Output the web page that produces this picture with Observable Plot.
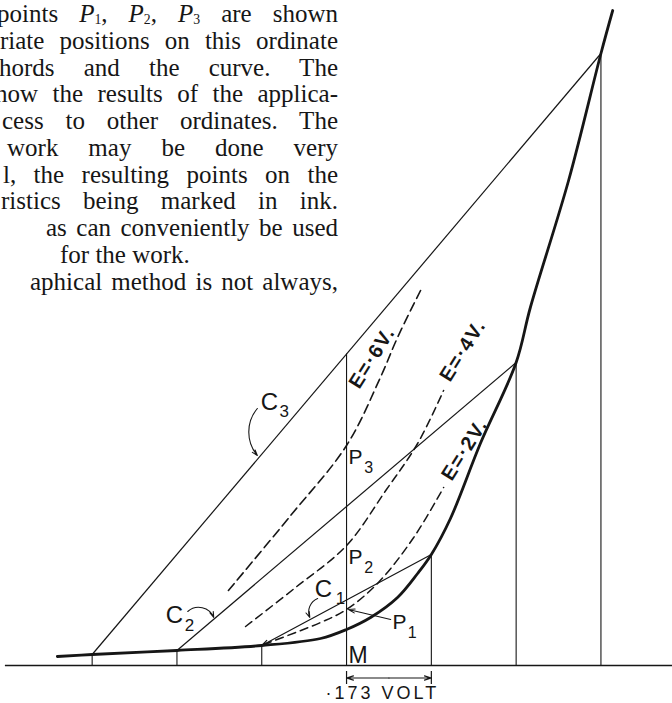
<!DOCTYPE html>
<html>
<head>
<meta charset="utf-8">
<script src="https://cdn.jsdelivr.net/npm/d3@7"></script>
<script src="https://cdn.jsdelivr.net/npm/@observablehq/plot@0.6"></script>
<style>
  html, body { margin: 0; padding: 0; background: #fff; }
  #wrap { position: relative; width: 672px; height: 703px; overflow: hidden; }
  #chart { position: absolute; left: 0; top: 0; }
  #para { position: absolute; left: 0; top: 0; font-family: "Liberation Serif", "DejaVu Serif", serif; font-size: 25px; color: #161616; }
  #para .ln { position: absolute; white-space: nowrap; line-height: 26.7px; }
  #para sub { font-size: 0.55em; vertical-align: -0.12em; font-style: normal; }
  .elab text { letter-spacing: 1.5px; }
  .vlab text { letter-spacing: 3px; }
</style>
</head>
<body>
<div id="wrap"><div id="chart"></div><div id="para"></div></div>
<script>
// Grid voltage (V, measured from the ordinate M, 0.173 V per division) and plate current (mA)
const gridVolts = [-0.519, -0.346, -0.173, 0, 0.173, 0.346, 0.519];

// Static characteristic (heavy curve)
const curveVolts   = [-0.59, -0.519, -0.346, -0.173, -0.053, 0, 0.049, 0.104, 0.145, 0.173, 0.212, 0.273, 0.346, 0.375, 0.453, 0.519, 0.543];
const curveCurrent = [0.09, 0.11, 0.15, 0.20, 0.27, 0.36, 0.48, 0.68, 0.92, 1.11, 1.47, 2.22, 3.03, 3.58, 4.85, 6.12, 6.55];

// Derived characteristics (dashed) for E = ·2, ·4, ·6 volt
const e2Volts   = [-0.169, -0.053, 0, 0.065, 0.137, 0.198];
const e2Current = [0.21, 0.43, 0.56, 0.83, 1.28, 1.78];
const e4Volts   = [-0.206, -0.104, 0, 0.080, 0.145, 0.198];
const e4Current = [0.39, 0.78, 1.20, 1.75, 2.22, 2.75];
const e6Volts   = [-0.241, -0.114, 0, 0.069, 0.104, 0.151];
const e6Current = [0.75, 1.50, 2.20, 2.88, 3.28, 3.75];

const eLabels = ["E=·2V.", "E=·4V.", "E=·6V."];
const divisionLabel = "·173 VOLT";

// Text of the page above the figure
const paraLines = [
  'points <i>P</i><sub>1</sub>, <i>P</i><sub>2</sub>, <i>P</i><sub>3</sub> are shown',
  'riate positions on this ordinate',
  'hords and the curve.  The',
  'how the results of the applica-',
  'cess to other ordinates.  The',
  'work may be done very',
  'l, the resulting points on the',
  'ristics being marked in ink.',
  'as can conveniently be used',
  'for the work.',
  'aphical method is not always,'
];

const ink = "#161616";
const sans = "Liberation Sans, Arial, sans-serif";

const pts = (V, I) => V.map((v, k) => ({v, i: I[k]}));
const curve = pts(curveVolts, curveCurrent);
const e2 = pts(e2Volts, e2Current);
const e4 = pts(e4Volts, e4Current);
const e6 = pts(e6Volts, e6Current);
const at = v => curveCurrent[curveVolts.indexOf(v)];

// Chords C1, C2, C3 join the curve at ±1, ±2, ±3 divisions about M
const mid = gridVolts.indexOf(0);
const chords = [1, 2, 3].map(k => ({
  v1: gridVolts[mid - k], i1: at(gridVolts[mid - k]),
  v2: gridVolts[mid + k], i2: at(gridVolts[mid + k])
}));
const c3 = chords[2];
const c3AtM = c3.i1 + (c3.i2 - c3.i1) * (0 - c3.v1) / (c3.v2 - c3.v1);
const ordinates = gridVolts.map(v => ({v, top: v === 0 ? c3AtM : at(v)}));

// Points P1, P2, P3 where the dashed characteristics cross the ordinate M
const pOnM = [e2, e4, e6].map(s => s.find(d => d.v === 0).i);

const step = gridVolts[mid + 1] - gridVolts[mid];

const labelArrow = (d, bend) => Plot.arrow([d], {
  x1: "v1", y1: "i1", x2: "v2", y2: "i2", bend,
  stroke: ink, strokeWidth: 1.1, headLength: 8, headAngle: 35
});

const chart = Plot.plot({
  width: 672,
  height: 703,
  margin: 0,
  x: {domain: [-0.706, 0.665], axis: null},
  y: {domain: [0, 6.65], range: [665, 0], axis: null},
  marks: [
    // abscissa
    Plot.ruleY([0], {x1: -0.696, x2: 0.665, stroke: ink, strokeWidth: 1.6}),
    // ordinates
    Plot.ruleX(ordinates, {x: "v", y1: 0, y2: "top", stroke: ink, strokeWidth: 1.1}),
    // chords
    Plot.link(chords.slice(1), {x1: "v1", y1: "i1", x2: "v2", y2: "i2", stroke: ink, strokeWidth: 1.2}),
    Plot.arrow(chords.slice(0, 1), {x1: "v2", y1: "i2", x2: "v1", y2: "i1", stroke: ink, strokeWidth: 1.2, headLength: 9, headAngle: 35}),
    // dashed characteristics
    Plot.line(e2, {x: "v", y: "i", curve: "catmull-rom", stroke: ink, strokeWidth: 1.5, strokeDasharray: "8,5"}),
    Plot.line(e4, {x: "v", y: "i", curve: "catmull-rom", stroke: ink, strokeWidth: 1.5, strokeDasharray: "8,5"}),
    Plot.line(e6, {x: "v", y: "i", curve: "catmull-rom", stroke: ink, strokeWidth: 1.6, strokeDasharray: "9,5"}),
    // static characteristic
    Plot.line(curve, {x: "v", y: "i", curve: "catmull-rom", stroke: ink, strokeWidth: 2.8}),
    // labels along the dashed curves
    Plot.text([
      {t: eLabels[0], v: 0.241, i: 2.16},
      {t: eLabels[1], v: 0.237, i: 3.15},
      {t: eLabels[2], v: 0.052, i: 3.08}
    ], {x: "v", y: "i", text: "t", rotate: -58, fontSize: 20, fontWeight: "bold", fontFamily: sans, fill: ink, className: "elab"}),
    // chord labels
    Plot.text([
      {t: "C", v: -0.065, i: 0.757},
      {t: "C", v: -0.369, i: 0.497},
      {t: "C", v: -0.175, i: 2.627}
    ], {x: "v", y: "i", text: "t", textAnchor: "start", fontSize: 24, fontFamily: sans, fill: ink}),
    Plot.text([
      {t: "1", v: -0.022, i: 0.674},
      {t: "2", v: -0.330, i: 0.404},
      {t: "3", v: -0.137, i: 2.544}
    ], {x: "v", y: "i", text: "t", textAnchor: "start", fontSize: 17, fontFamily: sans, fill: ink}),
    labelArrow({v1: -0.059, i1: 0.67, v2: -0.075, i2: 0.48}, -45),
    labelArrow({v1: -0.324, i1: 0.54, v2: -0.271, i2: 0.48}, 55),
    labelArrow({v1: -0.182, i1: 2.57, v2: -0.182, i2: 2.10}, -40),
    // point labels on the ordinate M
    Plot.text([
      {t: "P", v: 0.094, i: pOnM[0] - 0.123},
      {t: "P", v: 0.004, i: pOnM[1] - 0.113},
      {t: "P", v: 0.004, i: pOnM[2] - 0.113}
    ], {x: "v", y: "i", text: "t", textAnchor: "start", fontSize: 21, fontFamily: sans, fill: ink}),
    Plot.text([
      {t: "1", v: 0.125, i: pOnM[0] - 0.229},
      {t: "2", v: 0.036, i: pOnM[1] - 0.219},
      {t: "3", v: 0.036, i: pOnM[2] - 0.219}
    ], {x: "v", y: "i", text: "t", textAnchor: "start", fontSize: 16, fontFamily: sans, fill: ink}),
    Plot.arrow([{v1: 0.090, i1: pOnM[0] - 0.10, v2: 0.004, i2: pOnM[0]}],
      {x1: "v1", y1: "i1", x2: "v2", y2: "i2", stroke: ink, strokeWidth: 1.1, headLength: 9, headAngle: 35}),
    Plot.text(["M"], {x: 0.004, y: 0.094, text: d => d, textAnchor: "start", fontSize: 23, fontFamily: sans, fill: ink}),
    // one-division dimension below the axis
    Plot.ruleX([0, step], {x: d => d, y1: -0.06, y2: -0.19, stroke: ink, strokeWidth: 1.2}),
    Plot.arrow([0, step], {x1: step / 2, y1: -0.125, x2: d => d, y2: -0.125, stroke: ink, strokeWidth: 1.2, headLength: 9, headAngle: 35}),
    Plot.text([divisionLabel], {x: 0.073, y: -0.28, text: d => d, fontSize: 18, fontFamily: sans, fill: ink, className: "vlab"})
  ]
});
document.getElementById("chart").appendChild(chart);

// Paragraph lines: each justified out to the column edge
const para = document.getElementById("para");
const lineIndent = [-3, 0, -1, -5, 2, 7, 3, 1, 46, 60, 30];
const columnRight = 338, firstBaseline = 23, leading = 26.75;
paraLines.forEach((html, k) => {
  const div = document.createElement("div");
  div.className = "ln";
  div.innerHTML = html;
  div.style.left = lineIndent[k] + "px";
  div.style.top = (firstBaseline + k * leading - 22) + "px";
  para.appendChild(div);
  if (k !== 9) {
    const gaps = div.textContent.trim().split(/\s+/).length - 1;
    const w = div.getBoundingClientRect().width;
    const target = columnRight - lineIndent[k];
    if (gaps > 0) div.style.wordSpacing = ((target - w) / gaps) + "px";
  }
});
</script>
</body>
</html>
